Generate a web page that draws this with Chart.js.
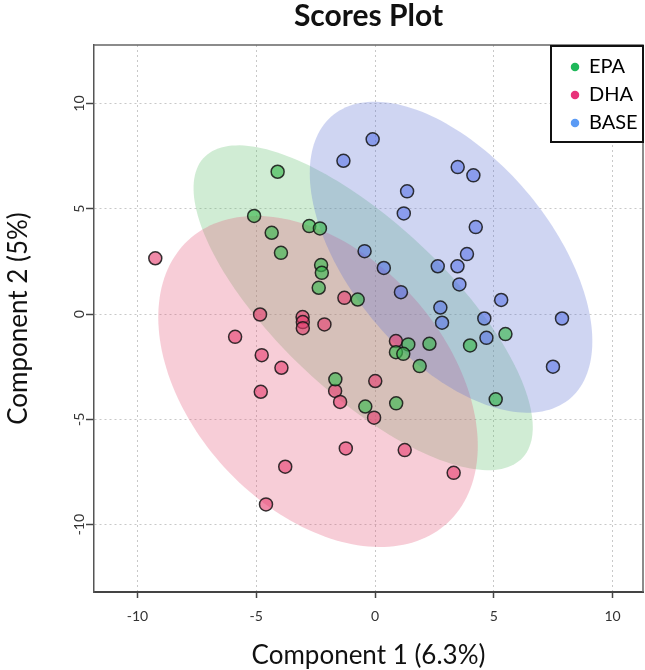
<!DOCTYPE html>
<html>
<head>
<meta charset="utf-8">
<title>Scores Plot</title>
<script src="https://cdn.jsdelivr.net/npm/chart.js@4.4.0/dist/chart.umd.min.js"></script>
<style>
    html, body { margin: 0; padding: 0; background: #fff; }
    #wrap { width: 645px; height: 670px; }
</style>
</head>
<body>
<div id="wrap"><canvas id="scoresChart" width="645" height="670"></canvas></div>
<script>
// Groups and colours
const groups = ['EPA', 'DHA', 'BASE'];
const legendColors = ['#1fb85a', '#e8337a', '#5b9bf5'];
const pointColors = ['rgba(60,185,80,0.65)', 'rgba(230,60,110,0.6)', 'rgba(80,110,230,0.55)'];
const ellipseColors = ['rgba(98,192,112,0.3)', 'rgba(228,88,122,0.3)', 'rgba(95,115,212,0.3)'];

// Scores (component 1 / component 2)
const epaX = [-4.10, -5.09, -2.77, -2.32, -4.35, -3.96, -2.27, -2.24, -2.37, -0.73, 5.49, 1.40, 2.29, 4.00, 0.88, 1.19, 1.88, -1.67, 5.08, -0.41, 0.89];
const epaY = [6.76, 4.66, 4.18, 4.07, 3.86, 2.91, 2.33, 1.96, 1.25, 0.69, -0.95, -1.44, -1.41, -1.49, -1.81, -1.89, -2.47, -3.10, -4.05, -4.39, -4.24];

const dhaX = [-9.25, -1.29, -4.84, -3.05, -3.04, -3.04, -2.13, -5.89, -4.77, -3.94, 0.01, -4.81, -1.68, -1.47, -0.04, -1.23, -3.78, -4.59, 0.88, 1.25, 3.31];
const dhaY = [2.65, 0.77, -0.02, -0.14, -0.38, -0.67, -0.49, -1.08, -1.95, -2.55, -3.18, -3.69, -3.65, -4.17, -4.92, -6.38, -7.25, -9.04, -1.28, -6.46, -7.54];

const baseX = [-0.10, -1.33, 3.48, 4.14, 1.35, 1.21, 4.24, -0.44, 3.87, 0.37, 2.64, 3.47, 3.55, 1.09, 5.31, 2.75, 2.82, 4.60, 7.87, 4.69, 7.49];
const baseY = [8.30, 7.28, 6.98, 6.59, 5.83, 4.78, 4.13, 2.99, 2.85, 2.19, 2.27, 2.27, 1.41, 1.04, 0.67, 0.31, -0.41, -0.21, -0.21, -1.13, -2.50];

// Confidence ellipses: centre x, centre y, semi-axis a, semi-axis b, angle in degrees (data units)
const epaEllipse = [-0.5, 0.3, 9.8, 3.8, -48];
const dhaEllipse = [-2.4, -3.2, 8.7, 5.6, -56];
const baseEllipse = [3.2, 2.7, 8.4, 4.4, -56];

// Axis ranges and tick step
const xRange = [-11.83, 11.28];
const yRange = [-13.2, 12.78];
const tickStep = 5;

const FONT = 'Lato, "Open Sans", sans-serif';

function toPoints(xs, ys) {
    return xs.map((x, i) => ({ x: x, y: ys[i] }));
}

// draws the filled ellipses behind the points, using the chart's scales
const ellipsePlugin = {
    id: 'ellipses',
    beforeDatasetsDraw(chart) {
        const { ctx, chartArea, scales } = chart;
        const list = [epaEllipse, dhaEllipse, baseEllipse];
        ctx.save();
        ctx.beginPath();
        ctx.rect(chartArea.left, chartArea.top, chartArea.right - chartArea.left, chartArea.bottom - chartArea.top);
        ctx.clip();
        list.forEach((e, k) => {
            const [cx, cy, a, b, deg] = e;
            const rot = deg * Math.PI / 180;
            ctx.beginPath();
            for (let s = 0; s <= 180; s++) {
                const t = s / 180 * Math.PI * 2;
                const dx = a * Math.cos(t), dy = b * Math.sin(t);
                const x = cx + dx * Math.cos(rot) - dy * Math.sin(rot);
                const y = cy + dx * Math.sin(rot) + dy * Math.cos(rot);
                const px = scales.x.getPixelForValue(x);
                const py = scales.y.getPixelForValue(y);
                if (s === 0) ctx.moveTo(px, py); else ctx.lineTo(px, py);
            }
            ctx.closePath();
            ctx.fillStyle = ellipseColors[k];
            ctx.fill();
        });
        ctx.restore();
    }
};

// box top/right edges, rotated y tick labels, boxed legend on top
const framePlugin = {
    id: 'frame',
    afterLayout(chart) {
        const area = chart.chartArea;
        chart.legend.left = area.right - 80;
        chart.legend.top = area.top + 4;
    },
    afterDraw(chart) {
        const { ctx, chartArea: area } = chart;
        const ys = chart.scales.y;
        ctx.save();
        ctx.strokeStyle = '#666';
        ctx.lineWidth = 1.5;
        ctx.beginPath();
        ctx.moveTo(area.left, area.top);
        ctx.lineTo(area.right, area.top);
        ctx.lineTo(area.right, area.bottom);
        ctx.stroke();

        ctx.font = '14px ' + FONT;
        ctx.fillStyle = '#333';
        ctx.textAlign = 'center';
        ctx.textBaseline = 'middle';
        ys.ticks.forEach(t => {
            const py = ys.getPixelForValue(t.value);
            ctx.save();
            ctx.translate(ys.right - 15, py);
            ctx.rotate(-Math.PI / 2);
            ctx.fillText(t.label, 0, 0);
            ctx.restore();
        });

        // legend box
        const bx = area.right - 92, by = area.top + 1;
        ctx.fillStyle = '#fff';
        ctx.fillRect(bx, by, 92, 96);
        ctx.strokeStyle = '#111';
        ctx.lineWidth = 2;
        ctx.strokeRect(bx, by, 92, 96);
        ctx.restore();
        chart.legend.draw();
    }
};

const ctx = document.getElementById('scoresChart').getContext('2d');
const chart = new Chart(ctx, {
    type: 'scatter',
    data: {
        datasets: [
            { label: groups[0], data: toPoints(epaX, epaY), backgroundColor: pointColors[0] },
            { label: groups[1], data: toPoints(dhaX, dhaY), backgroundColor: pointColors[1] },
            { label: groups[2], data: toPoints(baseX, baseY), backgroundColor: pointColors[2] }
        ]
    },
    options: {
        responsive: false,
        animation: false,
        devicePixelRatio: 1,
        events: [],
        layout: { autoPadding: false, padding: { top: 0, right: 2, bottom: 0, left: 0 } },
        elements: {
            point: { radius: 6.5, borderWidth: 1.5, borderColor: 'rgba(20,20,20,0.85)' }
        },
        plugins: {
            title: {
                display: true,
                text: 'Scores Plot',
                fullSize: false,
                color: '#111',
                font: { family: FONT, size: 30, weight: 'bold', lineHeight: 1 },
                padding: { top: 1, bottom: 14 }
            },
            legend: {
                display: true,
                position: 'chartArea',
                align: 'start',
                labels: {
                    usePointStyle: true,
                    boxWidth: 8,
                    boxHeight: 6,
                    padding: 8,
                    color: '#111',
                    font: { family: FONT, size: 20 },
                    generateLabels: () => groups.map((g, i) => ({
                        text: g,
                        fillStyle: legendColors[i],
                        strokeStyle: legendColors[i],
                        lineWidth: 0,
                        pointStyle: 'circle',
                        hidden: false,
                        datasetIndex: i
                    }))
                }
            },
            tooltip: { enabled: false }
        },
        scales: {
            x: {
                type: 'linear',
                min: xRange[0],
                max: xRange[1],
                afterFit: s => { s.height = 78; },
                ticks: {
                    stepSize: tickStep,
                    includeBounds: false,
                    color: '#333',
                    padding: 10,
                    font: { family: FONT, size: 14 }
                },
                grid: {
                    color: '#c8c8c8',
                    tickLength: 6,
                    tickColor: '#444',
                    tickBorderDash: [],
                    tickWidth: 1.5
                },
                border: { color: '#444', width: 2, dash: [2, 3] },
                title: {
                    display: true,
                    text: 'Component 1 (6.3%)',
                    color: '#111',
                    font: { family: FONT, size: 26, lineHeight: 1.1 },
                    padding: { top: 0, bottom: 0 }
                }
            },
            y: {
                type: 'linear',
                min: yRange[0],
                max: yRange[1],
                afterFit: s => { s.width = 94; },
                ticks: {
                    stepSize: tickStep,
                    includeBounds: false,
                    display: false
                },
                grid: {
                    color: '#c8c8c8',
                    tickLength: 8,
                    tickColor: '#444',
                    tickBorderDash: [],
                    tickWidth: 1.5
                },
                border: { color: '#555', width: 1.5, dash: [2, 3] },
                title: {
                    display: true,
                    text: 'Component 2 (5%)',
                    color: '#111',
                    font: { family: FONT, size: 26, lineHeight: 1.1 },
                    padding: { top: 4, bottom: 0 }
                }
            }
        }
    },
    plugins: [ellipsePlugin, framePlugin]
});
</script>
</body>
</html>
